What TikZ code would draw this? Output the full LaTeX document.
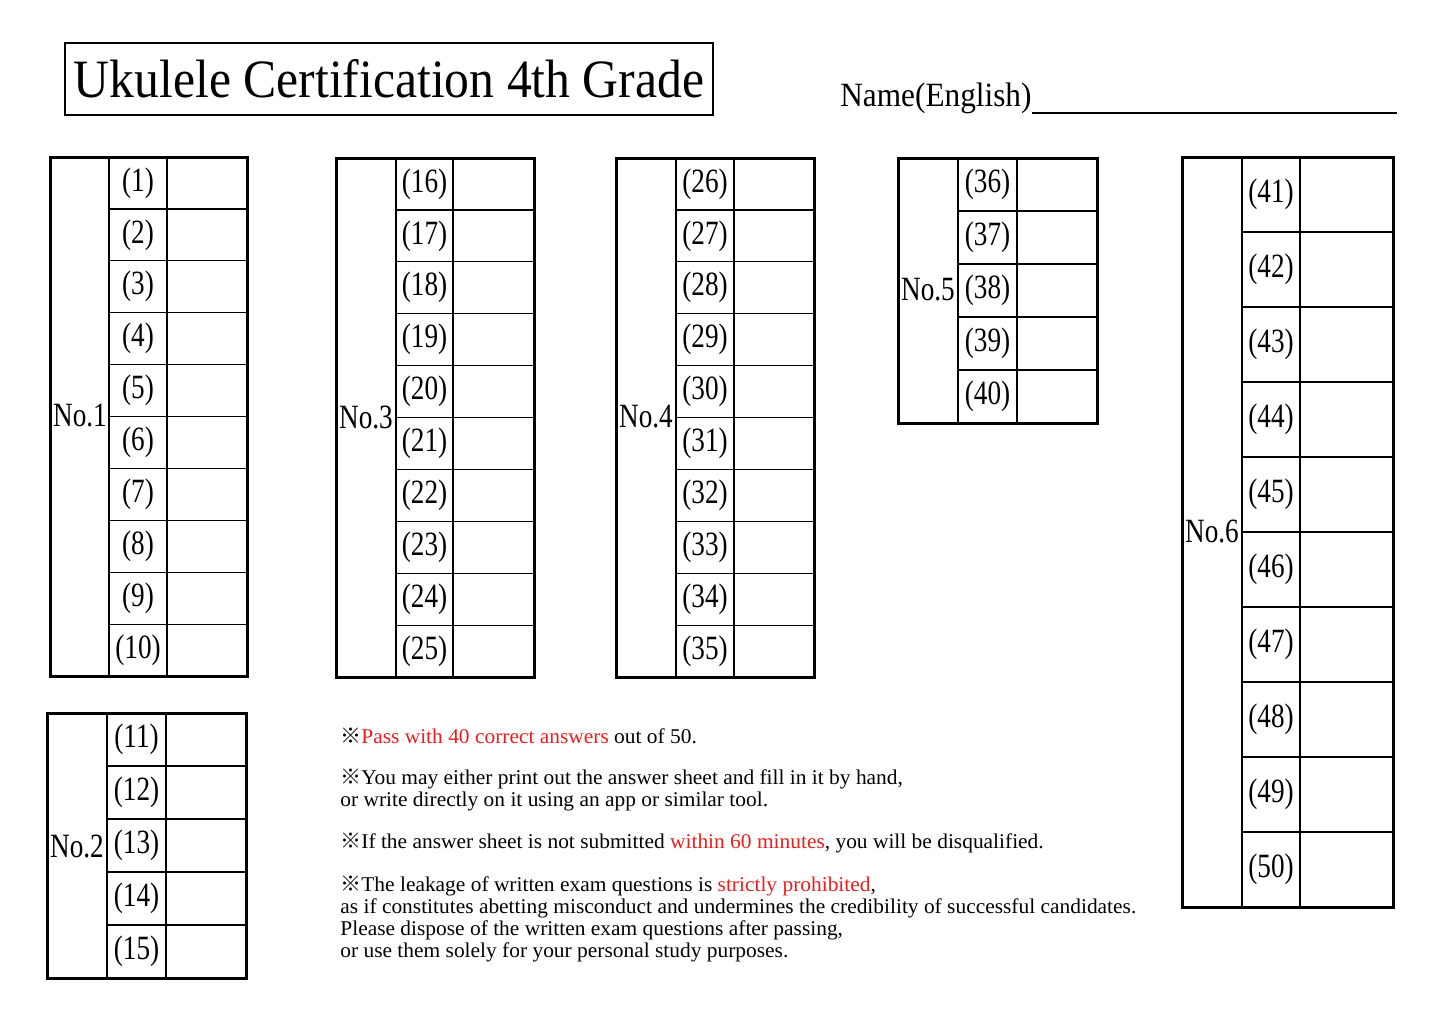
\documentclass[tikz,border=0pt]{standalone}
\usepackage{fontspec}
\setmainfont[FakeStretch=0.8]{Liberation Serif}
\newfontfamily\widefont[FakeStretch=0.92]{Liberation Serif}
\newfontfamily\notefont[FakeStretch=1.02]{Liberation Serif}
\newfontfamily\cjk{Noto Sans CJK JP}
\usetikzlibrary{positioning}
\definecolor{warnred}{RGB}{235,30,30}
\tikzset{
  frame/.style={draw,line width=1.5pt},
  cell/.style={draw,line width=0.6pt},
  numtext/.style={font=\fontsize{17}{17}\selectfont},
  notetext/.style={anchor=west,font=\notefont\fontsize{10.5}{11}\selectfont,inner sep=0pt}
}
% #1 name, #2 x left, #3 y top, #4 x right, #5 y bottom, #6 label col, #7 num col, #8 first, #9 rows
\newcommand{\answertable}[9]{%
  \pgfmathsetmacro{\rowh}{(#5-#3)/#9}
  \foreach \r in {1,...,#9}{
    \pgfmathtruncatemacro{\q}{#8+\r-1}
    \pgfmathsetmacro{\yt}{#3+(\r-1)*\rowh}
    \pgfmathsetmacro{\yb}{#3+\r*\rowh}
    \draw[cell] (#6,\yt) rectangle (#4,\yb);
    \draw[cell] (#7,\yt) -- (#7,\yb);
    \node[numtext] (#1-\q) at ({(#6+#7)/2},{(\yt+\yb)/2}) {(\q)};
  }
  \draw[frame] (#2,#3) rectangle (#4,#5);
  \draw[cell] (#6,#3) -- (#6,#5);
}
\begin{document}
\begin{tikzpicture}[x=0.5pt,y=-0.5pt]
\useasboundingbox (0,0) rectangle (1445,1022);
% title and name
\node[draw,line width=1.2pt,minimum width=324pt,minimum height=36pt,inner sep=0pt,
  font=\widefont\fontsize{27}{27}\selectfont] (title) at (389,79) {Ukulele Certification 4th Grade};
\node[anchor=base west,inner sep=0pt,font=\widefont\fontsize{17}{17}\selectfont] (name) at (840,107) {Name(English)};
\coordinate (lineend) at (1397,113);
\draw[line width=0.8pt] (name.south east |- lineend) -- (lineend);
% answer tables
\answertable{t1}{50}{157}{247}{676}{109}{167}{1}{10}
\node[numtext] (no1) at (80,416) {No.1};
\answertable{t2}{47}{713}{246}{978}{107}{166}{11}{5}
\node[numtext] (no2) at (77,846) {No.2};
\answertable{t3}{336}{158}{534}{677}{396}{453}{16}{10}
\node[numtext] (no3) at (366,417) {No.3};
\answertable{t4}{616}{158}{814}{677}{676}{734}{26}{10}
\node[numtext] (no4) at (646,417) {No.4};
\answertable{t5}{898}{158}{1097}{423}{958}{1017}{36}{5}
\node[numtext] (no5) at (928,290) {No.5};
\answertable{t6}{1182}{157}{1393}{907}{1242}{1300}{41}{10}
\node[numtext] (no6) at (1212,531) {No.6};
% notes
\node[notetext] (n1) at (340,736) {{\cjk ※}\textcolor{warnred}{Pass with 40 correct answers} out of 50.};
\node[notetext] (n2) at (340,779) {{\cjk ※}You may either print out the answer sheet and fill in it by hand,};
\node[notetext] (n3) at (340,801) {or write directly on it using an app or similar tool.};
\node[notetext] (n4) at (340,843) {{\cjk ※}If the answer sheet is not submitted \textcolor{warnred}{within 60 minutes}, you will be disqualified.};
\node[notetext] (n5) at (340,886) {{\cjk ※}The leakage of written exam questions is \textcolor{warnred}{strictly prohibited},};
\node[notetext] (n6) at (340,908) {as if constitutes abetting misconduct and undermines the credibility of successful candidates.};
\node[notetext] (n7) at (340,930) {Please dispose of the written exam questions after passing,};
\node[notetext] (n8) at (340,952) {or use them solely for your personal study purposes.};
\end{tikzpicture}
\end{document}
